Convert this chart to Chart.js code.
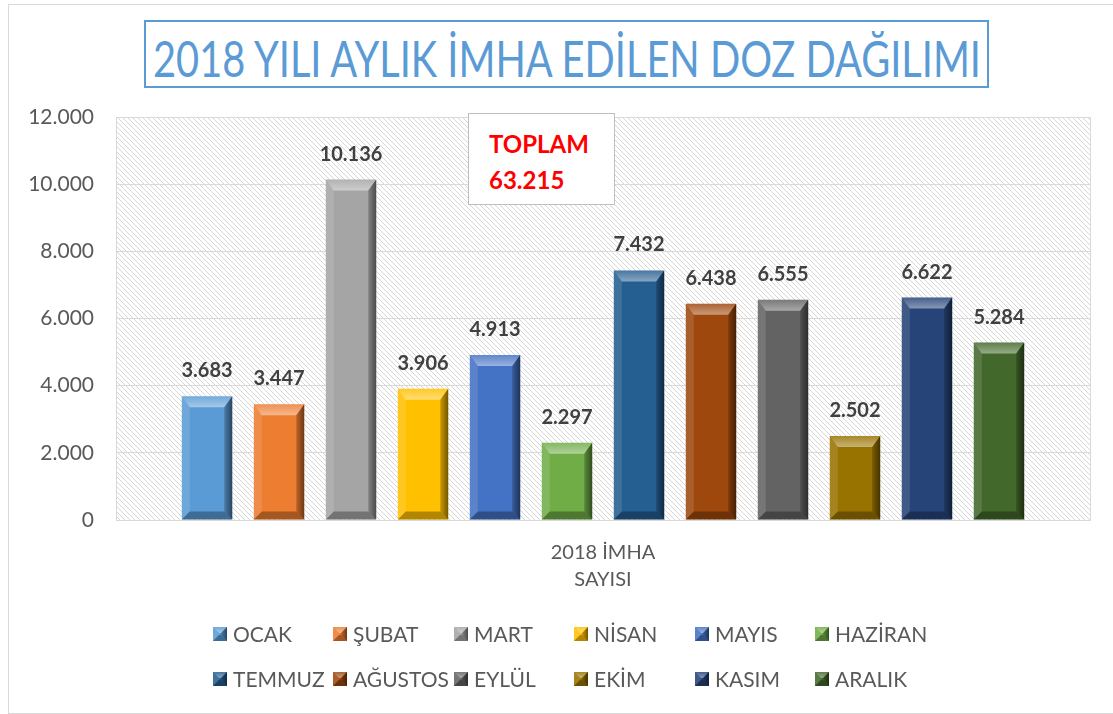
<!DOCTYPE html>
<html lang="tr">
<head>
<meta charset="utf-8">
<title>2018 Yılı Aylık İmha Edilen Doz Dağılımı</title>
<script src="https://cdn.jsdelivr.net/npm/chart.js@4.4.1/dist/chart.umd.min.js"></script>
<style>
  body { margin: 0; background: #fff; font-family: Lato, sans-serif; }
  #wrap { position: relative; width: 1113px; height: 714px; overflow: hidden; }
  #frame { position: absolute; left: 8px; top: 4px; width: 1120px; height: 708px; border: 1px solid #D9D9D9; }
  #chart { position: absolute; left: 0; top: 0; }
  #title {
    position: absolute; left: 144px; top: 20px; width: 841px; height: 64px;
    border: 2px solid #5B9BD5; background: #fff; overflow: hidden;
  }
  #title span {
    position: absolute; left: 50%; top: 0; color: #5B9BD5; font-size: 51px;
    line-height: 72px; white-space: nowrap;
    transform: translateX(-50%) scaleX(0.78);
  }
  #total {
    position: absolute; left: 468px; top: 113px; width: 147px; height: 92px;
    border: 1px solid #BFBFBF; background: #fff; color: #FF0000;
    font-weight: bold; font-size: 24px; line-height: 36px; box-sizing: border-box;
    padding: 12px 0 0 20px;
  }
  .lg { position: absolute; display: flex; align-items: center; font-size: 21px; color: #595959; white-space: nowrap; }
  .lg canvas { margin-right: 6px; }
</style>
</head>
<body>
<div id="wrap">
  <div id="frame"></div>
  <canvas id="chart" width="1113" height="714"></canvas>
  <div id="title"><span>2018 YILI AYLIK İMHA EDİLEN DOZ DAĞILIMI</span></div>
  <div id="total">TOPLAM<br>63.215</div>
  <div id="legend"></div>
</div>
<script>
// ---- data ----
const months = ['OCAK', 'ŞUBAT', 'MART', 'NİSAN', 'MAYIS', 'HAZİRAN',
                'TEMMUZ', 'AĞUSTOS', 'EYLÜL', 'EKİM', 'KASIM', 'ARALIK'];
const counts = [3683, 3447, 10136, 3906, 4913, 2297, 7432, 6438, 6555, 2502, 6622, 5284];
const colors = ['#5B9BD5', '#ED7D31', '#A5A5A5', '#FFC000', '#4472C4', '#70AD47',
                '#255E91', '#9E480E', '#636363', '#997300', '#264478', '#43682B'];
const categoryLabel = ['2018 İMHA', 'SAYISI'];
const yTicks = [0, 2000, 4000, 6000, 8000, 10000, 12000];

function fmt(n) {
    return String(n).replace(/\B(?=(\d{3})+(?!\d))/g, '.');
}

// bevel look of the bars (light top/left, dark right/bottom)
function drawBevel(ctx, l, t, r, b, bt, bs) {
    ctx.save();
    let g = ctx.createLinearGradient(0, t, 0, t + bt);
    g.addColorStop(0, 'rgba(255,255,255,0.15)');
    g.addColorStop(1, 'rgba(255,255,255,0.45)');
    poly(ctx, [[l, t], [r, t], [r - bs, t + bt], [l + bs, t + bt]], g);
    poly(ctx, [[l, t], [l + bs, t + bt], [l + bs, b - bs], [l, b]], 'rgba(255,255,255,0.12)');
    g = ctx.createLinearGradient(r - bs, 0, r, 0);
    g.addColorStop(0, 'rgba(0,0,0,0.2)');
    g.addColorStop(1, 'rgba(0,0,0,0.55)');
    poly(ctx, [[r, t], [r, b], [r - bs, b - bs], [r - bs, t + bt]], g);
    poly(ctx, [[l, b], [r, b], [r - bs, b - bs], [l + bs, b - bs]], 'rgba(0,0,0,0.3)');
    ctx.restore();
}

function poly(ctx, pts, fill) {
    ctx.beginPath();
    ctx.moveTo(pts[0][0], pts[0][1]);
    for (let i = 1; i < pts.length; i++) ctx.lineTo(pts[i][0], pts[i][1]);
    ctx.closePath();
    ctx.fillStyle = fill;
    ctx.fill();
}

// hatched plot background
function makeHatch() {
    const c = document.createElement('canvas');
    c.width = 5; c.height = 5;
    const x = c.getContext('2d');
    x.strokeStyle = '#D6D6D6';
    x.lineWidth = 1;
    x.beginPath();
    x.moveTo(-1, -1); x.lineTo(6, 6);
    x.moveTo(-1, 4); x.lineTo(1, 6);
    x.moveTo(4, -1); x.lineTo(6, 1);
    x.stroke();
    return c;
}

const hatchPlugin = {
    id: 'hatch',
    beforeDraw(chart) {
        const { ctx, chartArea: a } = chart;
        ctx.save();
        ctx.fillStyle = ctx.createPattern(makeHatch(), 'repeat');
        ctx.fillRect(a.left, a.top, a.right - a.left, a.bottom - a.top);
        ctx.strokeStyle = '#D9D9D9';
        ctx.strokeRect(a.left + 0.5, a.top + 0.5, a.right - a.left, a.bottom - a.top);
        ctx.restore();
    }
};

const bevelPlugin = {
    id: 'bevel',
    afterDatasetsDraw(chart) {
        const ctx = chart.ctx;
        chart.data.datasets.forEach((ds, i) => {
            chart.getDatasetMeta(i).data.forEach(bar => {
                const l = bar.x - bar.width / 2, r = bar.x + bar.width / 2;
                drawBevel(ctx, l, bar.y, r, bar.base, 11, 8);
                ctx.save();
                ctx.font = 'bold 20px Lato';
                ctx.fillStyle = '#404040';
                ctx.textAlign = 'center';
                ctx.textBaseline = 'alphabetic';
                ctx.fillText(fmt(ds.data[0]), bar.x, bar.y - 19);
                ctx.restore();
            });
        });
    }
};

new Chart(document.getElementById('chart'), {
    type: 'bar',
    data: {
        labels: [categoryLabel],
        datasets: months.map((m, i) => ({
            label: m,
            data: [counts[i]],
            backgroundColor: colors[i],
            borderWidth: 0,
            categoryPercentage: 0.887,
            barPercentage: 0.7
        }))
    },
    options: {
        responsive: false,
        animation: false,
        layout: { padding: { top: 117, right: 23, left: 0, bottom: 0 } },
        plugins: { legend: { display: false }, tooltip: { enabled: false } },
        scales: {
            x: {
                grid: { display: false },
                border: { color: '#D9D9D9' },
                ticks: { color: '#595959', font: { family: 'Lato', size: 20, lineHeight: 1.35 }, padding: 11 },
                afterFit(s) { s.height = 194; }
            },
            y: {
                min: 0, max: 12000,
                afterBuildTicks(s) { s.ticks = yTicks.map(v => ({ value: v })); },
                grid: { color: '#D9D9D9', drawTicks: false },
                border: { display: false },
                ticks: { color: '#595959', font: { family: 'Lato', size: 21 }, padding: 22, callback: v => fmt(v) },
                afterFit(s) { s.width = 116; }
            }
        }
    },
    plugins: [hatchPlugin, bevelPlugin]
});

// legend: 6 columns x 2 rows like the original
const legendX = [213, 333, 454, 574, 695, 815];
const legendY = [621, 666];
const legend = document.getElementById('legend');
months.forEach((m, i) => {
    const item = document.createElement('div');
    item.className = 'lg';
    item.style.left = legendX[i % 6] + 'px';
    item.style.top = legendY[Math.floor(i / 6)] + 'px';
    const c = document.createElement('canvas');
    c.width = 14; c.height = 14;
    const cx = c.getContext('2d');
    cx.fillStyle = colors[i];
    cx.fillRect(0, 0, 14, 14);
    drawBevel(cx, 0, 0, 14, 14, 6, 6);
    item.appendChild(c);
    const s = document.createElement('span');
    s.textContent = m;
    item.appendChild(s);
    legend.appendChild(item);
});
</script>
</body>
</html>
